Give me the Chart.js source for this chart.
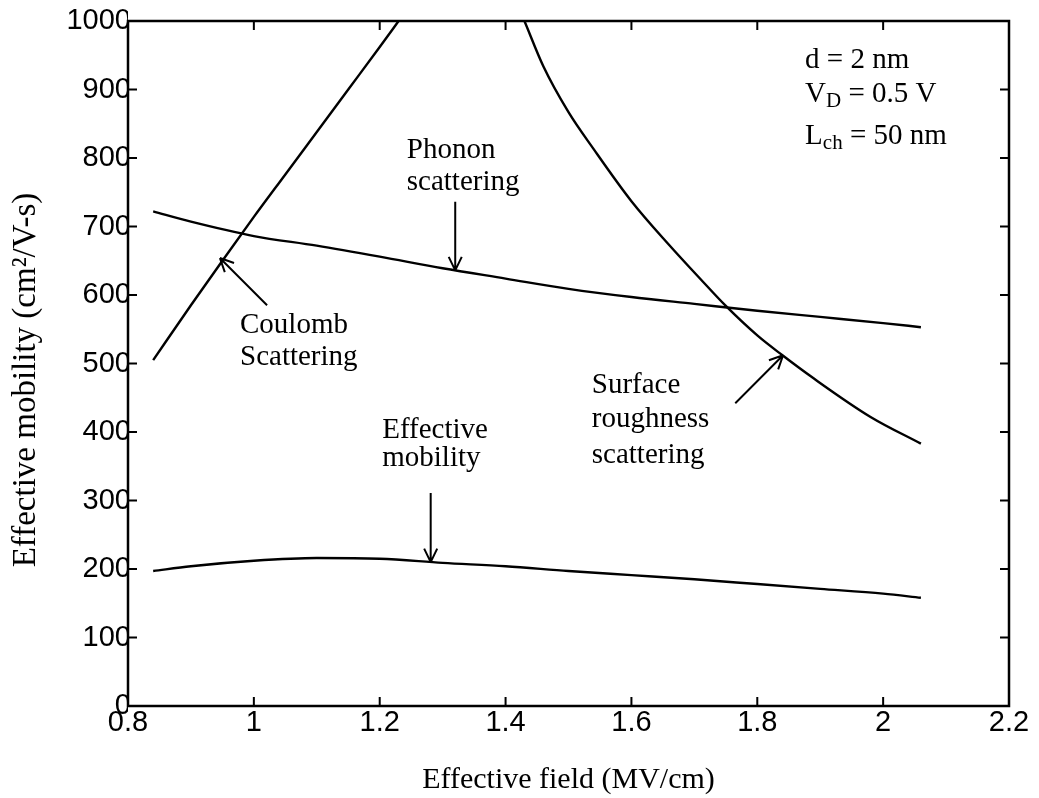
<!DOCTYPE html>
<html>
<head>
<meta charset="utf-8">
<script src="https://cdn.jsdelivr.net/npm/chart.js@4.4.1/dist/chart.umd.min.js"></script>
<style>
    html, body { margin: 0; padding: 0; background: #fff; }
</style>
</head>
<body>
<canvas id="mobility-chart" width="1039" height="798"></canvas>
<script>
// axis ticks
const xTicks = [0.8, 1, 1.2, 1.4, 1.6, 1.8, 2, 2.2];
const yTicks = [0, 100, 200, 300, 400, 500, 600, 700, 800, 900, 1000];

// Coulomb scattering
const coulombField = [0.84, 0.9, 0.95, 1.0, 1.05, 1.1, 1.15, 1.2, 1.23];
const coulombMobility = [505, 585, 650, 714, 776, 838, 900, 962, 1000];

// Phonon scattering
const phononField = [0.84, 0.9, 1.0, 1.1, 1.2, 1.3, 1.4, 1.5, 1.6, 1.7, 1.8, 1.9, 2.0, 2.06];
const phononMobility = [722, 707, 686, 672, 656, 639, 624, 609, 597, 587, 577, 568, 559, 553];

// Surface roughness scattering
const surfaceField = [1.43, 1.46, 1.5, 1.54, 1.6, 1.66, 1.71, 1.75, 1.8, 1.84, 1.89, 1.98, 2.06];
const surfaceMobility = [1000, 934, 867, 813, 737, 673, 623, 584, 541, 512, 478, 422, 383];

// Effective mobility
const effectiveField = [0.84, 0.9, 1.0, 1.1, 1.2, 1.3, 1.4, 1.5, 1.6, 1.7, 1.8, 1.9, 2.0, 2.06];
const effectiveMobility = [197, 204, 212, 216, 215, 209, 204, 197, 191, 185, 178, 171, 164, 158];

const serif = '"Liberation Serif", "Times New Roman", serif';
const sans = '"Liberation Sans", Arial, sans-serif';

function points(xs, ys) {
    return xs.map((x, i) => ({ x: x, y: ys[i] }));
}

function curve(label, xs, ys) {
    return {
        label: label,
        data: points(xs, ys),
        borderColor: '#000',
        borderWidth: 2.4,
        pointRadius: 0,
        cubicInterpolationMode: 'monotone',
        fill: false,
    };
}

// box round the plot with inward ticks on every side
const boxTicks = {
    id: 'boxTicks',
    afterDraw(chart) {
        const { ctx, chartArea: a, scales: { x, y } } = chart;
        ctx.save();
        ctx.strokeStyle = '#000';
        ctx.lineWidth = 2.5;
        ctx.strokeRect(a.left, a.top, a.right - a.left, a.bottom - a.top);
        ctx.lineWidth = 2;
        ctx.beginPath();
        xTicks.forEach(v => {
            const px = x.getPixelForValue(v);
            ctx.moveTo(px, a.bottom); ctx.lineTo(px, a.bottom - 9);
            ctx.moveTo(px, a.top); ctx.lineTo(px, a.top + 9);
        });
        yTicks.forEach(v => {
            const py = y.getPixelForValue(v);
            ctx.moveTo(a.left, py); ctx.lineTo(a.left + 9, py);
            ctx.moveTo(a.right, py); ctx.lineTo(a.right - 9, py);
        });
        ctx.stroke();
        ctx.restore();
    }
};

// labels and arrows, placed in data units
const labels = [
    { text: 'Phonon', x: 1.243, y: 800 },
    { text: 'scattering', x: 1.243, y: 753 },
    { text: 'Coulomb', x: 0.978, y: 545 },
    { text: 'Scattering', x: 0.978, y: 498 },
    { text: 'Effective', x: 1.204, y: 391 },
    { text: 'mobility', x: 1.204, y: 350 },
    { text: 'Surface', x: 1.537, y: 457 },
    { text: 'roughness', x: 1.537, y: 407 },
    { text: 'scattering', x: 1.537, y: 355 },
];
const arrows = [
    { from: [1.320, 736], to: [1.320, 636] },
    { from: [1.021, 585], to: [0.946, 654] },
    { from: [1.281, 311], to: [1.281, 210] },
    { from: [1.765, 442], to: [1.841, 512] },
];

const notes = {
    id: 'notes',
    afterDraw(chart) {
        const { ctx, scales: { x, y } } = chart;
        ctx.save();
        ctx.fillStyle = '#000';
        ctx.strokeStyle = '#000';
        ctx.textBaseline = 'alphabetic';
        ctx.textAlign = 'left';
        ctx.font = '29px ' + serif;
        labels.forEach(l => {
            ctx.fillText(l.text, x.getPixelForValue(l.x), y.getPixelForValue(l.y));
        });

        ctx.lineWidth = 2;
        arrows.forEach(ar => {
            const x0 = x.getPixelForValue(ar.from[0]), y0 = y.getPixelForValue(ar.from[1]);
            const x1 = x.getPixelForValue(ar.to[0]), y1 = y.getPixelForValue(ar.to[1]);
            const ang = Math.atan2(y1 - y0, x1 - x0);
            ctx.beginPath();
            ctx.moveTo(x0, y0); ctx.lineTo(x1, y1);
            [-0.45, 0.45].forEach(d => {
                ctx.moveTo(x1, y1);
                ctx.lineTo(x1 - 15 * Math.cos(ang + d), y1 - 15 * Math.sin(ang + d));
            });
            ctx.stroke();
        });

        // parameters, top right
        const px = x.getPixelForValue(1.876);
        const rows = [
            { y: 931, parts: [['d = 2 nm', 0]] },
            { y: 882, parts: [['V', 0], ['D', 1], [' = 0.5 V', 0]] },
            { y: 820, parts: [['L', 0], ['ch', 1], [' = 50 nm', 0]] },
        ];
        rows.forEach(r => {
            let cx = px;
            const base = y.getPixelForValue(r.y);
            r.parts.forEach(([t, sub]) => {
                ctx.font = (sub ? '21px ' : '29px ') + serif;
                ctx.fillText(t, cx, base + (sub ? 5 : 0));
                cx += ctx.measureText(t).width;
            });
        });
        ctx.restore();
    }
};

const mobilityChart = new Chart(document.getElementById('mobility-chart'), {
    type: 'line',
    data: {
        datasets: [
            curve('Coulomb scattering', coulombField, coulombMobility),
            curve('Phonon scattering', phononField, phononMobility),
            curve('Surface roughness scattering', surfaceField, surfaceMobility),
            curve('Effective mobility', effectiveField, effectiveMobility),
        ]
    },
    options: {
        responsive: false,
        animation: false,
        devicePixelRatio: 1,
        layout: { padding: { top: 21, right: 30, left: 0, bottom: 0 } },
        plugins: {
            legend: { display: false },
            tooltip: { enabled: false },
        },
        scales: {
            x: {
                type: 'linear',
                min: 0.8,
                max: 2.2,
                afterBuildTicks: s => { s.ticks = xTicks.map(v => ({ value: v })); },
                afterFit: s => { s.height = 92; },
                border: { display: false },
                grid: { display: false, drawTicks: false },
                ticks: {
                    color: '#000',
                    padding: 0,
                    font: { family: sans, size: 29 },
                    callback: v => String(v),
                },
                title: {
                    display: true,
                    text: 'Effective field (MV/cm)',
                    color: '#000',
                    font: { family: serif, size: 30 },
                    padding: { top: 0, bottom: 0 },
                },
            },
            y: {
                min: 0,
                max: 1000,
                afterBuildTicks: s => { s.ticks = yTicks.map(v => ({ value: v })); },
                afterFit: s => { s.width = 128; },
                border: { display: false },
                grid: { display: false, drawTicks: false },
                ticks: {
                    color: '#000',
                    padding: -3,
                    font: { family: sans, size: 29 },
                    callback: v => String(v),
                },
                title: {
                    display: true,
                    // trailing spaces nudge the centred title down a little
                    text: 'Effective mobility (cm²/V-s)\u00a0\u00a0\u00a0\u00a0',
                    color: '#000',
                    font: { family: serif, size: 33 },
                    padding: { top: 7, bottom: 0 },
                },
            },
        },
    },
    plugins: [boxTicks, notes],
});
</script>
</body>
</html>
